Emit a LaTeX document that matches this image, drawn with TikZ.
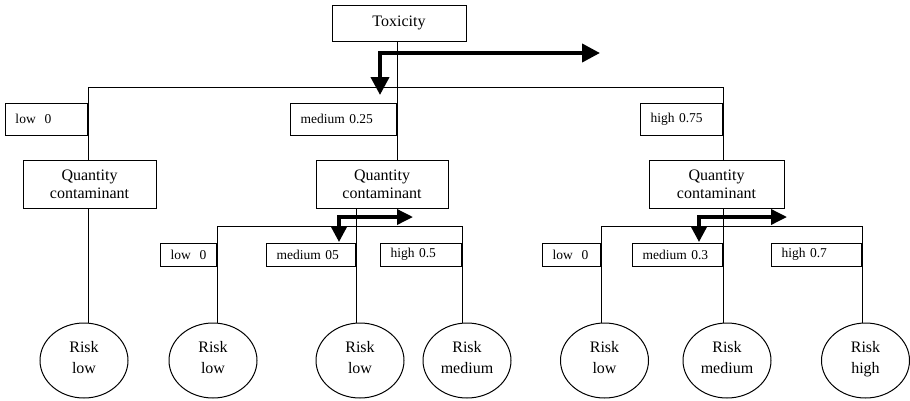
\documentclass[tikz,border=0pt]{standalone}
\usepackage{fontspec}
\setmainfont{Liberation Serif}
\usetikzlibrary{arrows.meta,shapes.geometric}

\tikzset{
  box/.style={draw, line width=1pt, inner sep=0pt, align=center,
    font=\fontsize{16}{18}\selectfont},
  lbl/.style={draw, line width=1pt, anchor=east, inner xsep=10pt, inner ysep=0pt,
    align=left, font=\fontsize{13.5}{15}\selectfont},
  risk/.style={draw, line width=1pt, ellipse, minimum width=88pt, minimum height=75pt,
    inner sep=0pt, align=center, font=\fontsize{16}{21}\selectfont,
    execute at end node={\strut}},
  link/.style={line width=1pt},
  route/.style={line width=4pt, {Triangle[length=18pt,width=18pt]}-{Triangle[length=18pt,width=18pt]}},
  subroute/.style={line width=3.5pt, {Triangle[length=16pt,width=16pt]}-{Triangle[length=16pt,width=15pt]}}
}

\begin{document}
\begin{tikzpicture}[x=1pt,y=-1pt]
\useasboundingbox (0,0) rectangle (910,400);

% root
\node[box, minimum width=134pt, minimum height=36pt] (tox) at (399,23) {Toxicity};

% first level labels
\node[lbl, text width=62pt, minimum height=32pt] (lA) at (88,119) {low\ \ 0};
\node[lbl, text width=86pt, minimum height=32pt] (mA) at (397,119) {medium 0.25};
\node[lbl, text width=62pt, minimum height=32pt] (hA) at (723,119) {high 0.75};

% quantity boxes
\node[box, minimum width=133pt, minimum height=48pt] (qA) at (89.5,184) {Quantity\\contaminant};
\node[box, minimum width=132pt, minimum height=48pt] (qB) at (382,184) {Quantity\\contaminant};
\node[box, minimum width=135pt, minimum height=48pt] (qC) at (716.5,184) {Quantity\\contaminant};

% second level labels
\node[lbl, text width=36pt, minimum height=23pt] (lB) at (217,254.5) {low\ \ 0};
\node[lbl, text width=69pt, minimum height=23pt] (mB) at (356,254.5) {medium 05};
\node[lbl, text width=61pt, minimum height=23pt] (hB) at (462,254.5) {high 0.5};
\node[lbl, text width=38pt, minimum height=23pt] (lC) at (601,254.5) {low\ \ 0};
\node[lbl, text width=70pt, minimum height=23pt] (mC) at (723,254.5) {medium 0.3};
\node[lbl, text width=70pt, minimum height=23pt] (hC) at (862,254.5) {high 0.7};

% outcomes
\node[risk] (r1) at (84,360.5) {Risk\\low};
\node[risk] (r2) at (213,360.5) {Risk\\low};
\node[risk] (r3) at (360,360.5) {Risk\\low};
\node[risk] (r4) at (467,360.5) {Risk\\medium};
\node[risk] (r5) at (604.5,360.5) {Risk\\low};
\node[risk] (r6) at (727,360.5) {Risk\\medium};
\node[risk] (r7) at (865.5,360.5) {Risk\\high};

% bus heights
\coordinate (bus1) at (0,87);
\coordinate (bus2) at (0,226);

% tree connectors
\draw[link] (mA.east |- tox.south) -- (mA.east |- qB.north);
\draw[link] (lA.east |- qA.north) -- (lA.east |- bus1) -- (hA.east |- bus1) -- (hA.east |- qC.north);
\draw[link] (lA.east |- qA.south) -- (lA.east |- r1.north);

\draw[link] (mB.east |- qB.south) -- (mB.east |- r3.north);
\draw[link] (lB.east |- r2.north) -- (lB.east |- bus2) -- (hB.east |- bus2) -- (hB.east |- r4.north);

\draw[link] (mC.east |- qC.south) -- (mC.east |- r6.north);
\draw[link] (lC.east |- r5.north) -- (lC.east |- bus2) -- (hC.east |- bus2) -- (hC.east |- r7.north);

% decision routes
\coordinate (t1) at (380,95);
\coordinate (t2) at (600,53);
\draw[route] (t1) |- (t2);

\coordinate (u1) at (339,242);
\coordinate (u2) at (413,217);
\draw[subroute] (u1) |- (u2);

\coordinate (v1) at (699,242);
\coordinate (v2) at (787,217);
\draw[subroute] (v1) |- (v2);
\end{tikzpicture}
\end{document}
